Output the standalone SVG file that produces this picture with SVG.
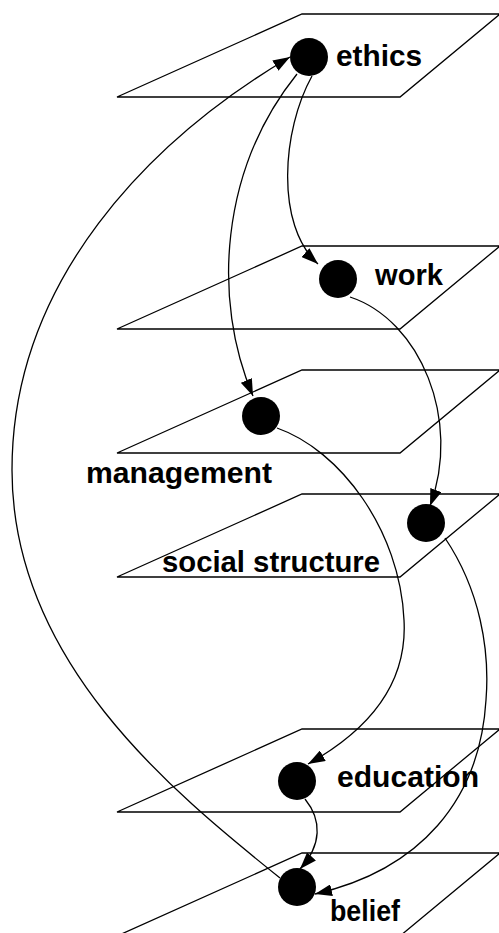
<svg xmlns="http://www.w3.org/2000/svg" width="499" height="933" viewBox="0 0 499 933">
  <style>
    .plane { fill: none; stroke: #000; stroke-width: 1.3; }
    .edge { fill: none; stroke: #000; stroke-width: 1.3; marker-end: url(#head); }
    .dot { fill: #000; }
    .label { font-family: "Liberation Sans", Arial, sans-serif; font-weight: bold; font-size: 30px; fill: #000; }
  </style>
  <defs>
    <marker id="head" viewBox="0 0 17 12" refX="17" refY="6" markerWidth="17" markerHeight="12" markerUnits="userSpaceOnUse" orient="auto">
      <path d="M0,0 L17,6 L0,12 Z" fill="#000"/>
    </marker>
  </defs>

  <!-- layer planes -->
  <g id="planes">
    <polygon class="plane" points="117,97 302,14 500,14 400,97"/>
    <polygon class="plane" points="117,329 302,246 500,246 400,329"/>
    <polygon class="plane" points="117,453 302,370 500,370 400,453"/>
    <polygon class="plane" points="117,577 302,494 500,494 400,577"/>
    <polygon class="plane" points="117,812 302,729 500,729 400,812"/>
    <polygon class="plane" points="117,936 302,853 500,853 400,936"/>
  </g>

  <!-- connectors -->
  <g id="edges">
    <path class="edge" d="M312,76 C282,130 275,225 318,264"/>
    <path class="edge" d="M297,74 C220,170 212,300 253,396"/>
    <path class="edge" d="M350,297 C420,320 462,420 430,506"/>
    <path class="edge" d="M277,428 C340,450 400,530 404,620 C408,690 360,735 308,764"/>
    <path class="edge" d="M445,538 C480,590 490,650 486,700 C480,800 420,870 315,894"/>
    <path class="edge" d="M305,799 C322,820 322,845 300,869"/>
    <path class="edge" d="M280,878 C170,790 12,660 12,470 C12,280 150,140 290,57"/>
  </g>

  <g id="ethics">
    <circle class="dot" cx="309" cy="57" r="19"/>
    <text class="label" x="336" y="66" textLength="86" lengthAdjust="spacingAndGlyphs">ethics</text>
  </g>
  <g id="work">
    <circle class="dot" cx="338" cy="279" r="19"/>
    <text class="label" x="375" y="285" textLength="68" lengthAdjust="spacingAndGlyphs">work</text>
  </g>
  <g id="management">
    <circle class="dot" cx="261" cy="416" r="19"/>
    <text class="label" x="86" y="483" textLength="186" lengthAdjust="spacingAndGlyphs">management</text>
  </g>
  <g id="social-structure">
    <circle class="dot" cx="426" cy="523" r="19"/>
    <text class="label" x="162" y="572" textLength="218" lengthAdjust="spacingAndGlyphs">social structure</text>
  </g>
  <g id="education">
    <circle class="dot" cx="297" cy="781" r="19"/>
    <text class="label" x="337" y="787" textLength="142" lengthAdjust="spacingAndGlyphs">education</text>
  </g>
  <g id="belief">
    <circle class="dot" cx="297" cy="887" r="19"/>
    <text class="label" x="330" y="921" textLength="70" lengthAdjust="spacingAndGlyphs">belief</text>
  </g>
</svg>
